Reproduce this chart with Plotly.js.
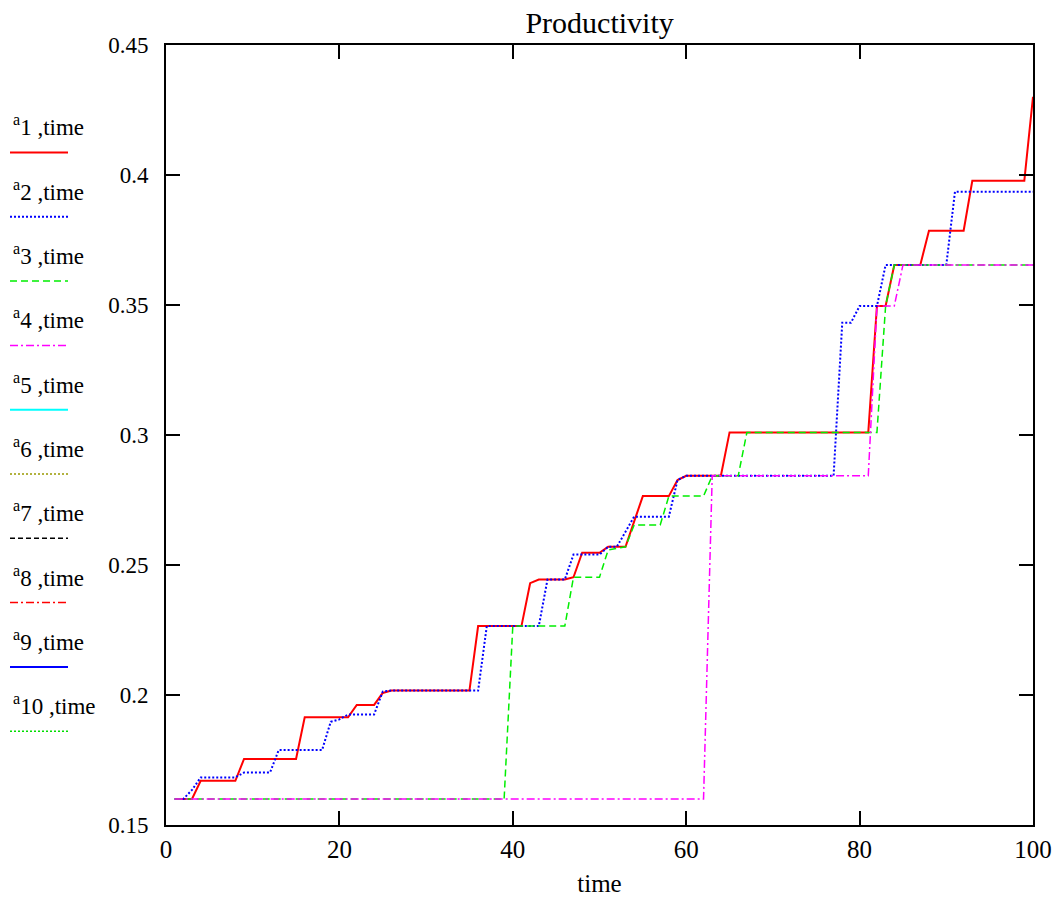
<!DOCTYPE html>
<html>
<head>
<meta charset="utf-8">
<script src="https://cdn.plot.ly/plotly-3.0.1.min.js"></script>
<style>html,body{margin:0;padding:0;background:#fff;}</style>
</head>
<body>
<div id="chart" style="width:1058px;height:900px;"></div>
<script>
// ---- data ----
const time = [];
for (let t = 1; t <= 100; t++) time.push(t);

// a1,time : red solid
const a1 = [
  0.160,0.160,0.160,0.167,0.167,0.167,0.167,0.167,0.1754,0.1754,
  0.1754,0.1754,0.1754,0.1754,0.1754,0.1914,0.1914,0.1914,0.1914,0.1914,
  0.1914,0.1962,0.1962,0.1962,0.2008,0.2017,0.2017,0.2017,0.2017,0.2017,
  0.2017,0.2017,0.2017,0.2017,0.2017,0.2265,0.2265,0.2265,0.2265,0.2265,
  0.2265,0.2430,0.2444,0.2444,0.2444,0.2444,0.2453,0.2547,0.2547,0.2547,
  0.2570,0.2570,0.2570,0.2668,0.2765,0.2765,0.2765,0.2765,0.2827,0.2843,
  0.2843,0.2843,0.2843,0.2843,0.3010,0.3010,0.3010,0.3010,0.3010,0.3010,
  0.3010,0.3010,0.3010,0.3010,0.3010,0.3010,0.3010,0.3010,0.3010,0.3010,
  0.3010,0.3496,0.3496,0.3654,0.3654,0.3654,0.3654,0.3786,0.3786,0.3786,
  0.3786,0.3786,0.3978,0.3978,0.3978,0.3978,0.3978,0.3978,0.3978,0.4301
];
// a2,time : blue dotted
const a2 = [
  0.160,0.160,0.1635,0.1683,0.1683,0.1683,0.1683,0.1683,0.1702,0.1702,
  0.1702,0.1702,0.1788,0.1788,0.1788,0.1788,0.1788,0.1788,0.1897,0.1906,
  0.1925,0.1925,0.1925,0.1925,0.2013,0.2017,0.2017,0.2017,0.2017,0.2017,
  0.2017,0.2017,0.2017,0.2017,0.2017,0.2017,0.2265,0.2265,0.2265,0.2265,
  0.2265,0.2265,0.2265,0.2444,0.2444,0.2444,0.2540,0.2540,0.2540,0.2540,
  0.2570,0.2570,0.2628,0.2686,0.2686,0.2686,0.2686,0.2686,0.2827,0.2843,
  0.2843,0.2843,0.2843,0.2843,0.2843,0.2843,0.2843,0.2843,0.2843,0.2843,
  0.2843,0.2843,0.2843,0.2843,0.2843,0.2843,0.2843,0.3432,0.3432,0.3496,
  0.3496,0.3496,0.3654,0.3654,0.3654,0.3654,0.3654,0.3654,0.3654,0.3654,
  0.3936,0.3936,0.3936,0.3936,0.3936,0.3936,0.3936,0.3936,0.3936,0.3936
];
// a3,time : green dashed
const a3 = [
  0.160,0.160,0.160,0.160,0.160,0.160,0.160,0.160,0.160,0.160,
  0.160,0.160,0.160,0.160,0.160,0.160,0.160,0.160,0.160,0.160,
  0.160,0.160,0.160,0.160,0.160,0.160,0.160,0.160,0.160,0.160,
  0.160,0.160,0.160,0.160,0.160,0.160,0.160,0.160,0.160,0.2265,
  0.2265,0.2265,0.2265,0.2265,0.2265,0.2265,0.2453,0.2453,0.2453,0.2453,
  0.2558,0.2565,0.2570,0.2654,0.2654,0.2654,0.2654,0.2765,0.2765,0.2765,
  0.2765,0.2765,0.2843,0.2843,0.2843,0.2843,0.3010,0.3010,0.3010,0.3010,
  0.3010,0.3010,0.3010,0.3010,0.3010,0.3010,0.3010,0.3010,0.3010,0.3010,
  0.3010,0.3010,0.3496,0.3654,0.3654,0.3654,0.3654,0.3654,0.3654,0.3654,
  0.3654,0.3654,0.3654,0.3654,0.3654,0.3654,0.3654,0.3654,0.3654,0.3654
];
// a4,time : magenta dash-dot
const a4 = [
  0.160,0.160,0.160,0.160,0.160,0.160,0.160,0.160,0.160,0.160,
  0.160,0.160,0.160,0.160,0.160,0.160,0.160,0.160,0.160,0.160,
  0.160,0.160,0.160,0.160,0.160,0.160,0.160,0.160,0.160,0.160,
  0.160,0.160,0.160,0.160,0.160,0.160,0.160,0.160,0.160,0.160,
  0.160,0.160,0.160,0.160,0.160,0.160,0.160,0.160,0.160,0.160,
  0.160,0.160,0.160,0.160,0.160,0.160,0.160,0.160,0.160,0.160,
  0.160,0.160,0.2843,0.2843,0.2843,0.2843,0.2843,0.2843,0.2843,0.2843,
  0.2843,0.2843,0.2843,0.2843,0.2843,0.2843,0.2843,0.2843,0.2843,0.2843,
  0.2843,0.3496,0.3496,0.3496,0.3654,0.3654,0.3654,0.3654,0.3654,0.3654,
  0.3654,0.3654,0.3654,0.3654,0.3654,0.3654,0.3654,0.3654,0.3654,0.3654
];

const seriesNames = ['1 ,time','2 ,time','3 ,time','4 ,time','5 ,time','6 ,time','7 ,time','8 ,time','9 ,time','10 ,time'];
const seriesColors = ['#ff0000','#0000ff','#00ee00','#ff00ff','#00ffff','#999900','#000000','#ff0000','#0000ff','#00dd00'];
const seriesDash = ['solid','2px,2px','7px,4px','8px,3px,2px,3px','solid','2px,2px','5px,3px','8px,3px,2px,3px','solid','2px,2px'];
const seriesWidth = [2,2,1.5,1.5,2,1.5,1.5,1.5,2,1.5];
const seriesData = [a1,a2,a3,a4];

const FONT = 'Liberation Serif';

const traces = seriesData.map((ys, i) => ({
  x: time, y: ys, type: 'scatter', mode: 'lines',
  name: 'a' + seriesNames[i],
  line: {color: seriesColors[i], width: seriesWidth[i], dash: seriesDash[i]},
  showlegend: false, hoverinfo: 'x+y'
}));

// custom legend (Mathcad style: label above line sample), in paper coords
const L = 166, R = 25, T = 45, B = 75, W = 1058, H = 900;
const pw = W - L - R, ph = H - T - B;
const px2x = p => (p - L) / pw;
const py2y = p => 1 - (p - T) / ph;
const annotations = [];
const shapes = [];
seriesNames.forEach((nm, i) => {
  const off = i * 64.3;
  annotations.push({
    xref: 'paper', yref: 'paper', x: px2x(11), y: py2y(126 + off),
    xanchor: 'left', yanchor: 'middle', showarrow: false,
    text: '<sup>a</sup>' + nm, font: {family: FONT, size: 23, color: '#000'}
  });
  shapes.push({
    type: 'line', xref: 'paper', yref: 'paper',
    x0: px2x(10), x1: px2x(68), y0: py2y(152.5 + off), y1: py2y(152.5 + off),
    line: {color: seriesColors[i], width: seriesWidth[i] > 1.5 ? 2 : 1.5, dash: seriesDash[i]}
  });
});

const layout = {
  width: W, height: H,
  margin: {l: L, r: R, t: T, b: B, pad: 0},
  paper_bgcolor: '#fff', plot_bgcolor: '#fff',
  font: {family: FONT, size: 22, color: '#000'},
  title: {text: 'Productivity', font: {family: FONT, size: 30, color: '#000'},
          x: 0.5667, xanchor: 'center', y: 0.975, yanchor: 'middle'},
  xaxis: {
    range: [0, 100], dtick: 20, tick0: 0,
    showgrid: false, zeroline: false,
    showline: true, linecolor: '#000', linewidth: 2, mirror: 'ticks',
    ticks: 'inside', ticklen: 14, tickwidth: 2, tickcolor: '#000',
    tickfont: {family: FONT, size: 25, color: '#000'},
    ticklabelstandoff: 1,
    title: {text: 'time', font: {family: FONT, size: 25, color: '#000'}, standoff: 12}
  },
  yaxis: {
    range: [0.15, 0.45], dtick: 0.05, tick0: 0.15,
    showgrid: false, zeroline: false,
    showline: true, linecolor: '#000', linewidth: 2, mirror: 'ticks',
    ticks: 'inside', ticklen: 14, tickwidth: 2, tickcolor: '#000',
    tickfont: {family: FONT, size: 23, color: '#000'},
    ticklabelstandoff: 11
  },
  annotations: annotations,
  shapes: shapes,
  showlegend: false
};

Plotly.newPlot('chart', traces, layout, {displayModeBar: false, staticPlot: true});
</script>
</body>
</html>
